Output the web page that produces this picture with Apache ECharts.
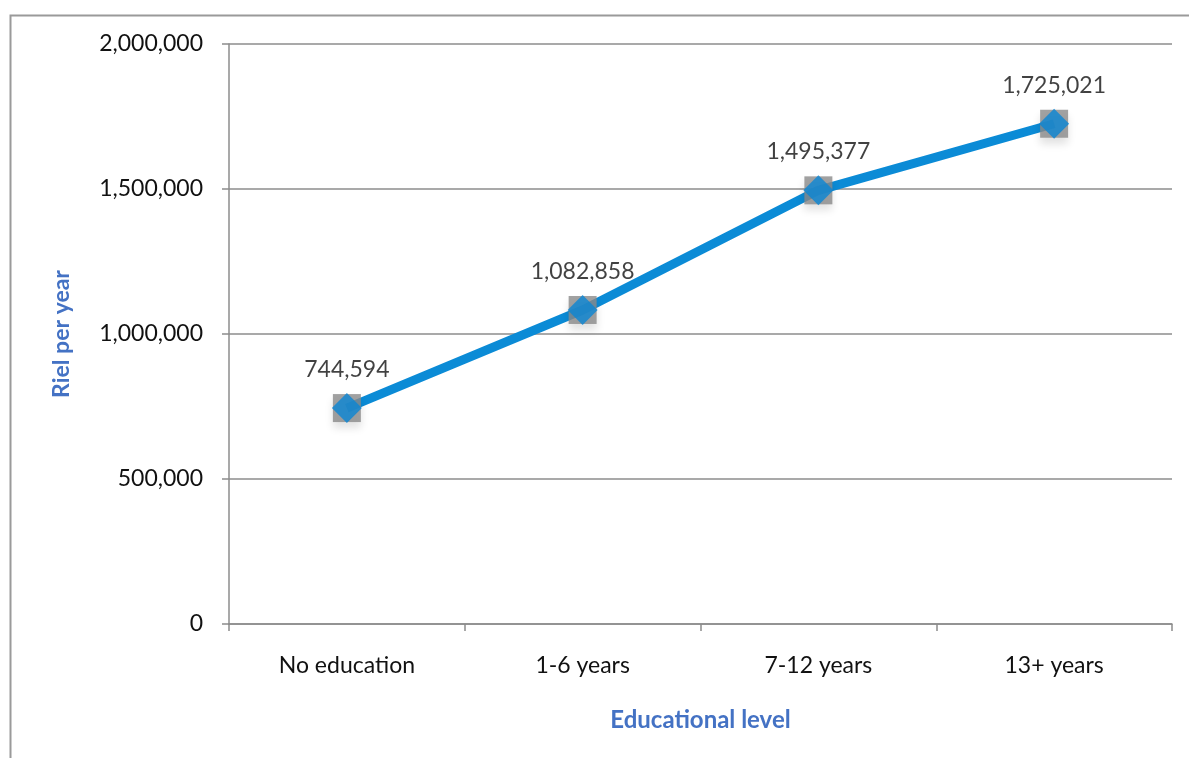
<!DOCTYPE html>
<html><head><meta charset="utf-8">
<script src="https://cdn.jsdelivr.net/npm/echarts@6/dist/echarts.min.js"></script>
<style>html,body{margin:0;padding:0;background:#fff}#c{width:1189px;height:758px}</style>
</head><body><div id="c"></div>
<script>
const categories = ['No education', '1-6 years', '7-12 years', '13+ years'];
const values = [744594, 1082858, 1495377, 1725021];
const yTicks = [0, 500000, 1000000, 1500000, 2000000];
const xTitle = 'Educational level';
const yTitle = 'Riel per year';

const fmt = v => v.toLocaleString('en-US');
const font = 'Lato, "Open Sans", sans-serif';
const chart = echarts.init(document.getElementById('c'));
chart.setOption({
  animation: false,
  graphic: [{ type: 'rect', shape: { x: 10.5, y: 15.5, width: 1300, height: 900 },
    style: { fill: 'none', stroke: '#9a9a9a', lineWidth: 2 }, silent: true }],
  grid: { left: 229, right: 17, top: 44, bottom: 134 },
  xAxis: {
    type: 'category', data: categories, boundaryGap: true,
    name: xTitle, nameLocation: 'middle', nameGap: 84,
    nameTextStyle: { fontFamily: font, fontSize: 24, fontWeight: 'bold', color: '#4472c4' },
    axisLine: { lineStyle: { color: '#8c8c8c', width: 1.5 } },
    axisTick: { show: true, length: 7, lineStyle: { color: '#8c8c8c', width: 1.5 } },
    axisLabel: { fontFamily: font, fontSize: 23, color: '#111', margin: 30 }
  },
  yAxis: {
    type: 'value', min: yTicks[0], max: yTicks[yTicks.length - 1], interval: yTicks[1] - yTicks[0],
    name: yTitle, nameLocation: 'middle', nameGap: 156,
    nameTextStyle: { fontFamily: font, fontSize: 23, fontWeight: 'bold', color: '#4472c4' },
    axisLine: { show: true, lineStyle: { color: '#8c8c8c', width: 1.5 } },
    axisTick: { show: true, length: 7, lineStyle: { color: '#8c8c8c', width: 1.5 } },
    splitLine: { lineStyle: { color: '#8c8c8c', width: 1.5 } },
    axisLabel: { fontFamily: font, fontSize: 23, color: '#111', margin: 26, formatter: v => fmt(v) }
  },
  series: [
    { type: 'line', data: values, symbol: 'none', z: 2,
      lineStyle: { color: '#0b8bd6', width: 9 } },
    { type: 'scatter', data: values, symbol: 'rect', symbolSize: 28, z: 3,
      itemStyle: { color: '#8a8a8a', shadowColor: 'rgba(0,0,0,0.15)', shadowBlur: 8, shadowOffsetY: 6 } },
    { type: 'scatter', data: values, symbol: 'diamond', symbolSize: [30, 30], z: 4,
      itemStyle: { color: '#0a86d4' },
      label: { show: true, position: 'top', distance: 12, fontFamily: font, fontSize: 23, color: '#111',
        formatter: p => fmt(p.value) } }
  ]
});
</script></body></html>
